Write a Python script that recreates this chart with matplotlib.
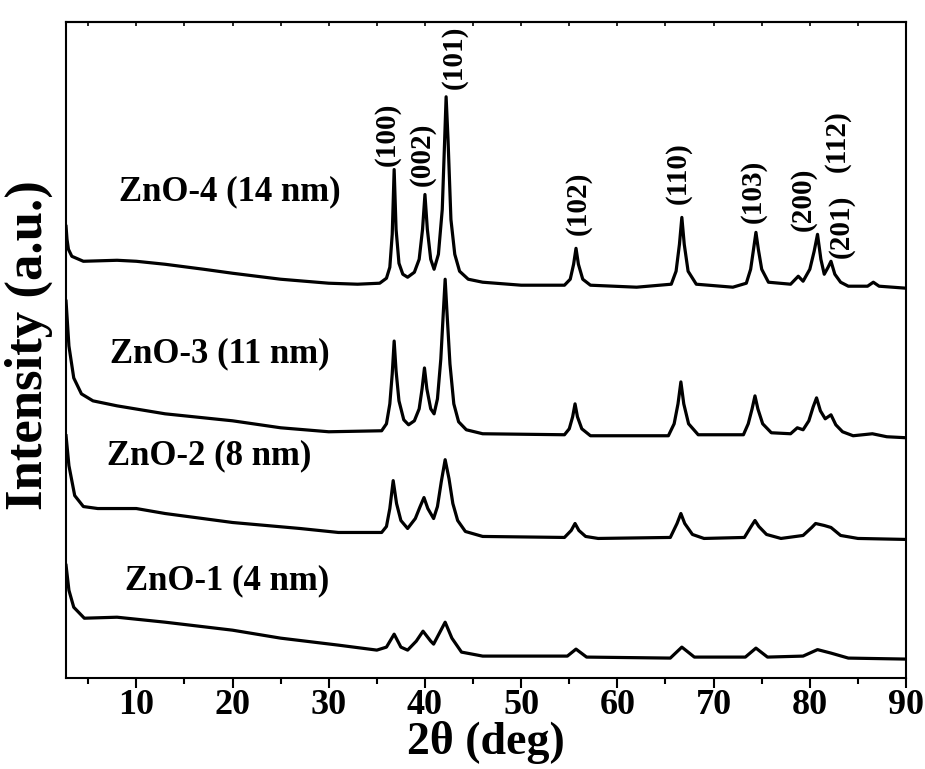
import matplotlib
matplotlib.use("Agg")
import matplotlib.pyplot as plt
from matplotlib.ticker import MultipleLocator

plt.rcParams["font.family"] = ["Liberation Serif", "DejaVu Serif"]
plt.rcParams["font.weight"] = "bold"

# 2theta (deg) and intensity (a.u., offset-stacked)
zno4_x = [2.7, 2.8, 2.95, 3.3, 4.5, 8, 10, 13, 17, 20, 25, 30, 33, 35.3,
          36.0, 36.35, 36.6, 36.8, 37.0, 37.3, 37.7, 38.2,
          38.9, 39.4, 39.75, 40.0, 40.25, 40.6, 40.95,
          41.4, 41.8, 42.05, 42.2, 42.4, 42.7, 43.1, 43.6, 44.5, 46, 50, 54.5,
          55.1, 55.45, 55.7, 55.95, 56.4, 57.2, 62, 65.6,
          66.1, 66.45, 66.7, 66.95, 67.35, 68.2, 72, 73.4,
          73.85, 74.15, 74.4, 74.65, 75.0, 75.7, 78.0, 78.8, 79.3,
          80.0, 80.45, 80.8, 81.15, 81.5,
          81.9, 82.2, 82.6, 83.2, 84, 86, 86.6, 87.2, 90]
zno4_y = [453, 440, 430, 423, 418, 419, 418, 415, 410, 406, 400, 396, 395, 396,
          401, 412, 445, 510, 450, 416, 405, 402,
          407, 420, 450, 485, 450, 420, 410,
          425, 470, 540, 583, 540, 460, 425, 408, 400, 397, 394, 394,
          400, 415, 431, 415, 400, 394, 392, 395,
          408, 435, 462, 435, 408, 395, 392, 396,
          410, 430, 447, 430, 410, 397, 395, 403, 398,
          410, 428, 445, 420, 405,
          412, 418, 405, 397, 393, 393, 397, 393, 391]

zno3_x = [2.7, 3.0, 3.5, 4.3, 5.5, 8, 13, 20, 25, 30, 35.5,
          36.0, 36.35, 36.6, 36.8, 37.0, 37.3, 37.8, 38.3,
          38.9, 39.4, 39.7, 39.95, 40.2, 40.6, 40.95,
          41.3, 41.65, 41.9, 42.1, 42.3, 42.6, 43.0, 43.5, 44.3, 46, 54.5,
          55.0, 55.35, 55.6, 55.85, 56.3, 57.2, 65.3,
          65.9, 66.3, 66.6, 66.9, 67.4, 68.4, 73.1,
          73.6, 74.0, 74.3, 74.6, 75.1, 76, 78.0, 78.7, 79.3,
          79.9, 80.35, 80.7, 81.1, 81.6, 82.2, 82.7, 83.4, 84.5, 86.5, 88, 90]
zno3_y = [378, 333, 301, 285, 278, 273, 265, 258, 251, 247, 248,
          255, 275, 305, 338, 308, 278, 259, 254,
          258, 270, 290, 311, 290, 270, 265,
          280, 320, 365, 400, 365, 315, 275, 257, 249, 245, 244,
          250, 262, 275, 262, 250, 243, 243,
          255, 275, 297, 275, 255, 244, 244,
          255, 270, 283, 270, 255, 246, 245, 251, 249,
          258, 272, 281, 268, 260, 264, 254, 247, 243, 245, 242, 241]

zno2_x = [2.7, 3.0, 3.6, 4.5, 6, 10, 13, 20, 27, 31, 35.5,
          36.0, 36.35, 36.7, 37.05, 37.5, 38.2, 39.0, 39.5, 39.9, 40.3,
          40.9, 41.3, 41.7, 42.1, 42.5, 42.9, 43.4, 44.2, 46, 54.5,
          55.2, 55.6, 56.0, 56.7, 58, 65.5, 66.2, 66.6, 67.0, 67.8, 69, 73.2,
          73.9, 74.3, 74.7, 75.5, 77, 79.3, 80.2, 80.6, 81.5, 82.2, 83.2,
          85, 90]
zno2_y = [243, 213, 183, 172, 170, 170, 165, 156, 150, 146, 146,
          152, 170, 198, 175, 158, 150, 160, 172, 181, 170,
          160, 172, 197, 219, 200, 175, 158, 147, 142, 141,
          148, 155, 148, 142, 140, 141, 155, 165, 155, 144, 140, 141,
          152, 158, 152, 144, 140, 143, 151, 155, 153, 151, 143,
          140, 139]

zno1_x = [2.7, 3.0, 3.5, 4.6, 8, 13, 20, 25, 31, 35,
          36.0, 36.8, 37.5, 38.2, 39.1, 39.8, 40.6, 40.9, 41.5, 42.1, 42.8,
          43.8, 46, 54.8, 55.7, 56.8, 65.5, 66.7, 68, 73.3, 74.4, 75.6,
          79.3, 80.8, 82.2, 84, 90]
zno1_y = [113, 88, 71, 60, 61, 56, 48, 40, 33, 28,
          31, 44, 31, 28, 37, 47, 37, 34, 45, 56, 40,
          26, 22, 22, 29, 21, 20, 31, 21, 21, 30, 21,
          22, 28.5, 25, 20, 19]

sample_names = ["ZnO-4 (14 nm)", "ZnO-3 (11 nm)", "ZnO-2 (8 nm)", "ZnO-1 (4 nm)"]
sample_label_x = [19.7, 18.7, 17.6, 19.4]
sample_label_y = [488, 325, 223, 98]

hkl_labels = ["(100)", "(002)", "(101)", "(102)", "(110)",
              "(103)", "(200)", "(112)", "(201)"]
hkl_x = [36.1, 39.7, 43.0, 55.9, 66.3, 74.1, 79.3, 82.8, 83.3]
hkl_y = [545, 525, 623, 476, 506, 488, 480, 539, 453]

fig = plt.figure(figsize=(9.25, 7.69), dpi=100)
ax = fig.add_axes([0.0714, 0.1183, 0.9081, 0.8531])

for xs, ys in ((zno4_x, zno4_y), (zno3_x, zno3_y),
               (zno2_x, zno2_y), (zno1_x, zno1_y)):
    ax.plot(xs, ys, color="black", lw=2.3, solid_joinstyle="round")

for name, tx, ty in zip(sample_names, sample_label_x, sample_label_y):
    ax.text(tx, ty, name, fontsize=25, fontweight="bold", ha="center", va="center")

for lab, tx, ty in zip(hkl_labels, hkl_x, hkl_y):
    ax.text(tx, ty, lab, fontsize=21, fontweight="bold", rotation=90,
            ha="center", va="center")

ax.set_xlim(2.7, 90)
ax.set_ylim(0, 658)
ax.xaxis.set_major_locator(MultipleLocator(10))
ax.xaxis.set_minor_locator(MultipleLocator(5))
ax.tick_params(axis="x", which="major", direction="out", length=7, width=1.5,
               labelsize=26, pad=1)
ax.tick_params(axis="x", which="minor", direction="out", length=4, width=1.5)
ax.set_yticks([])
for lab in ax.get_xticklabels():
    lab.set_fontweight("bold")

top = ax.secondary_xaxis("top")
top.xaxis.set_major_locator(MultipleLocator(5))
top.tick_params(direction="in", length=3, width=1.2, labeltop=False)

for sp in list(ax.spines.values()) + list(top.spines.values()):
    sp.set_linewidth(1.5)

fig.text(486 / 925, 1 - 742 / 769, "2\u03b8 (deg)", fontsize=33,
         fontweight="bold", ha="center", va="center")
fig.text(29 / 925, 1 - 345 / 769, "Intensity (a.u.)", fontsize=38,
         fontweight="bold", ha="center", va="center", rotation=90)

fig.savefig("out.png", dpi=100)
